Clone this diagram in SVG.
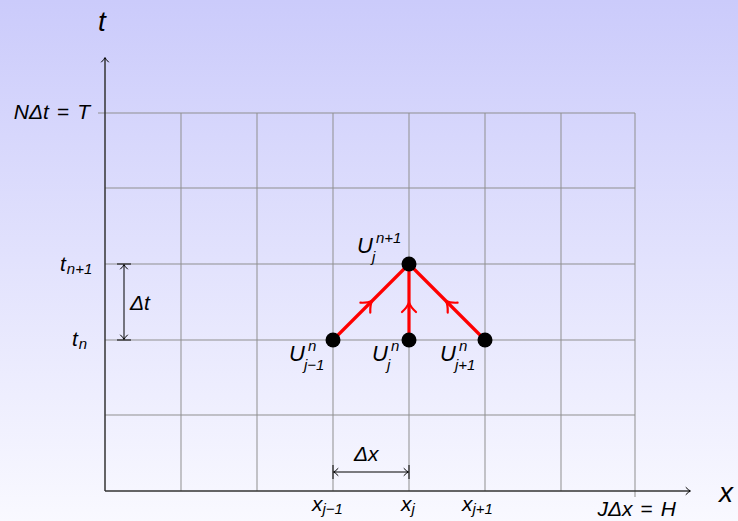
<svg xmlns="http://www.w3.org/2000/svg" width="738" height="521" viewBox="0 0 738 521">
<defs>
<linearGradient id="bg" x1="0" y1="0" x2="0" y2="1">
<stop offset="0" stop-color="#cbcbfb"/>
<stop offset="1" stop-color="#f9f9ff"/>
</linearGradient>
<marker id="redto" markerUnits="userSpaceOnUse" markerWidth="24" markerHeight="24" viewBox="-12 -12 24 24" refX="0" refY="0" orient="auto">
<path d="M-8,-7 Q-3,-1.5 1.5,0 Q-3,1.5 -8,7" fill="none" stroke="#ff0000" stroke-width="2.2" stroke-linecap="round"/>
</marker>
<marker id="blkto" markerUnits="userSpaceOnUse" markerWidth="12" markerHeight="12" viewBox="-6 -6 12 12" refX="0" refY="0" orient="auto-start-reverse">
<path d="M-4,-3.5 Q-1.5,-0.8 0.5,0 Q-1.5,0.8 -4,3.5" fill="none" stroke="#000" stroke-width="1" stroke-linecap="round"/>
</marker>
</defs>
<style>
.grid{stroke:#8f8f8f;stroke-width:1;fill:none}
.axis{stroke:#333;stroke-width:1.5;fill:none}
.dim{stroke:#000;stroke-width:1;fill:none}
.red{stroke:#ff0000;stroke-width:3.2;fill:none}
.lbl{font-family:"Liberation Sans",Arial,sans-serif;font-style:italic;font-size:21px;fill:#000}
.ul{font-size:22px}
.sub{font-size:15px}
.big{font-size:28px}
.up{font-style:normal}
.node{fill:#000}
</style>
<rect width="738" height="521" fill="url(#bg)"/>

<g id="grid">
<path class="grid" d="M181,113V491M257,113V491M333,113V491M409,113V491M485,113V491M561,113V491M635,113V497"/>
<path class="grid" d="M98,113H635M105,188H635M105,264H635M105,340H635M105,415H635"/>
</g>

<g id="axes">
<path class="axis" d="M105,491V58" marker-end="url(#blkto)"/>
<path class="axis" d="M105,491H690" marker-end="url(#blkto)"/>
<text class="lbl big" x="98" y="31">t</text>
<text class="lbl big" x="719" y="502">x</text>
</g>

<g id="connectors">
<path class="red" d="M333,340L371,302" marker-end="url(#redto)"/>
<path class="red" d="M371,302L409,264"/>
<path class="red" d="M409,340V304" marker-end="url(#redto)"/>
<path class="red" d="M409,304V264"/>
<path class="red" d="M485,340L447,302" marker-end="url(#redto)"/>
<path class="red" d="M447,302L409,264"/>
</g>

<g id="dim-t">
<path class="dim" d="M117,264H131M117,340H131"/>
<path class="dim" d="M124,265V339" marker-start="url(#blkto)" marker-end="url(#blkto)"/>
<text class="lbl" x="130" y="310">Δt</text>
</g>
<g id="dim-x">
<path class="dim" d="M333,465V479M409,465V479"/>
<path class="dim" d="M334,472H408" marker-start="url(#blkto)" marker-end="url(#blkto)"/>
<text class="lbl" x="354" y="461">Δx</text>
</g>

<g id="node-jm1">
<circle class="node" cx="333" cy="340" r="7.5"/>
<text class="lbl ul" x="289" y="361">U<tspan class="sub" x="308" y="351">n</tspan><tspan class="sub" x="304" y="370">j−1</tspan></text>
</g>
<g id="node-j">
<circle class="node" cx="409" cy="340" r="7.5"/>
<text class="lbl ul" x="372" y="361">U<tspan class="sub" x="391" y="351">n</tspan><tspan class="sub" x="387" y="370">j</tspan></text>
</g>
<g id="node-jp1">
<circle class="node" cx="485" cy="340" r="7.5"/>
<text class="lbl ul" x="440" y="361">U<tspan class="sub" x="459" y="351">n</tspan><tspan class="sub" x="455" y="370">j+1</tspan></text>
</g>
<g id="node-top">
<circle class="node" cx="409" cy="264" r="7.5"/>
<text class="lbl ul" x="357" y="253">U<tspan class="sub" x="376" y="243">n+1</tspan><tspan class="sub" x="372" y="262">j</tspan></text>
</g>

<g id="tick-labels">
<text class="lbl" x="90" y="119" text-anchor="end">NΔt<tspan class="up" dx="8">=</tspan><tspan dx="8">T</tspan></text>
<text class="lbl" x="60" y="271">t<tspan class="sub" dx="1" dy="3">n+1</tspan></text>
<text class="lbl" x="72" y="346">t<tspan class="sub" dx="1" dy="3">n</tspan></text>
<text class="lbl" x="312" y="511">x<tspan class="sub" dx="0" dy="3">j−1</tspan></text>
<text class="lbl" x="401" y="511">x<tspan class="sub" dx="0" dy="3">j</tspan></text>
<text class="lbl" x="462" y="511">x<tspan class="sub" dx="0" dy="3">j+1</tspan></text>
<text class="lbl" x="676" y="516" text-anchor="end">JΔx<tspan class="up" dx="8">=</tspan><tspan dx="8">H</tspan></text>
</g>
</svg>
